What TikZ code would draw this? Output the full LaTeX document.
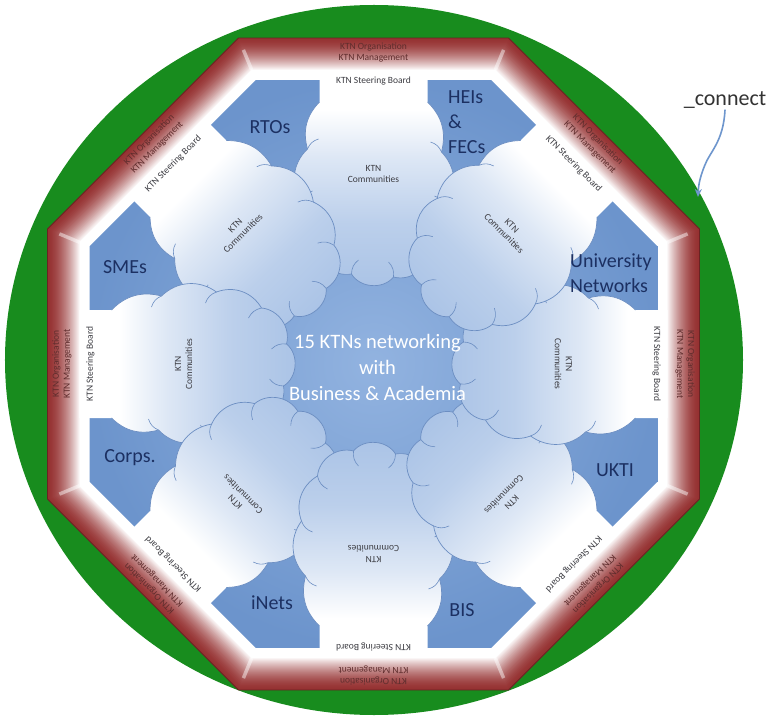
\documentclass[tikz,border=0pt]{standalone}
\usepackage{fontspec}
\setmainfont{Carlito}
\usetikzlibrary{arrows.meta}
\definecolor{ringgreen}{RGB}{24,140,30}
\definecolor{bandred}{RGB}{150,50,50}
\definecolor{bandtext}{RGB}{95,45,45}
\definecolor{octblueA}{RGB}{146,179,224}
\definecolor{octblueB}{RGB}{108,148,204}
\definecolor{cloudblue}{RGB}{170,195,230}
\definecolor{cloudline}{RGB}{108,142,194}
\definecolor{labelblue}{RGB}{28,48,98}
\definecolor{arrowblue}{RGB}{110,150,205}
\definecolor{smalltext}{RGB}{60,60,66}
\pgfdeclareverticalshading{petalshade}{100bp}{color(0bp)=(cloudblue); color(25bp)=(cloudblue); color(40bp)=(cloudblue!80!white); color(55bp)=(cloudblue!40!white); color(66bp)=(white); color(100bp)=(white)}
% regular octagon with flat sides, given its circumradius
\newcommand\octpath[1]{(22.5:#1) -- (67.5:#1) -- (112.5:#1) -- (157.5:#1) -- (202.5:#1) -- (247.5:#1) -- (292.5:#1) -- (337.5:#1) -- cycle}
% one cloud petal, pointing up, outer end on the steering-board strip
\newcommand\petalfill{(-54,294) -- (-54,262) to[bend right=30] (-66,215) to[bend right=40] (-72,162) to[bend right=40] (-58,120) to[bend right=50] (-22,90) to[bend right=55] (20,87) to[bend right=50] (56,112) to[bend right=40] (72,157) to[bend right=40] (68,212) to[bend right=30] (54,262) -- (54,294) -- cycle}
\newcommand\petaledge{(-54,262) to[bend right=30] (-66,215) to[bend right=40] (-72,162) to[bend right=40] (-58,120) to[bend right=50] (-22,90) to[bend right=55] (20,87) to[bend right=50] (56,112) to[bend right=40] (72,157) to[bend right=40] (68,212) to[bend right=30] (54,262)}
% short inner arcs where the cloud bumps meet
\newcommand\petalhooks{(-66,215) to[bend left=25] (-55,225) (-72,162) to[bend left=25] (-61,173) (-58,120) to[bend left=25] (-48,132) (-22,90) to[bend left=25] (-15,104) (20,87) to[bend right=25] (15,102) (56,112) to[bend right=25] (46,125) (72,157) to[bend right=25] (61,168) (68,212) to[bend right=25] (57,222)}
\tikzset{
  smallfont/.style={font=\fontsize{9.5}{11}\selectfont},
  biglabel/.style={font=\fontsize{20}{25}\selectfont, text=labelblue, inner sep=0pt},
}
\begin{document}
\begin{tikzpicture}[x=1pt,y=1pt]
\useasboundingbox (-373.5,-356) rectangle (399.5,364);
\fill[white] (-373.5,-356) rectangle (399.5,364);

% green ring
\fill[ringgreen] (0.5,4) ellipse [x radius=369, y radius=355];

% maroon frame, fading to white towards the inside
\foreach \i in {0,...,32} {
  \pgfmathsetmacro\R{(326-\i)*1.082392}
  \pgfmathsetmacro\p{100*(1-(\i/32)^1.6)}
  \fill[bandred!\p!white] \octpath{\R};
}
\draw[bandred!70!black, line width=0.8] \octpath{352.86};
% light mitre joints
\foreach \a in {22.5,67.5,...,337.5}
  \draw[white, opacity=0.45, line width=3.5] (\a:318.2) -- (\a:340);

% blue octagon
\shade[inner color=octblueA, outer color=octblueB] \octpath{307.4};

% petals with their texts
\foreach \t in {0,45,...,315} {
  \begin{scope}[transform canvas={rotate=\t}]
    \shade[shading=petalshade] \petalfill;
    \draw[cloudline, line width=0.7] \petaledge;
    \draw[cloudline, line width=0.6] \petalhooks;
    \node[smallfont, text=smalltext] (sb\t) at (0,283) {KTN Steering Board};
    \node[smallfont, text=bandtext, align=center] (org\t) at (0,311.5) {KTN Organisation\\KTN Management};
    \node[smallfont, text=smalltext, align=center] (com\t) at (0,190) {KTN\\Communities};
  \end{scope}
}

% centre text
\node[font=\fontsize{20.5}{26}\selectfont, text=white, align=center] (core) at (4,-3) {15 KTNs networking\\with\\Business \& Academia};

% partner labels
\node[biglabel] (rtos) at (-103.5,237) {RTOs};
\node[biglabel, anchor=west, align=left] (heis) at (74.5,242) {HEIs\\\&\\FECs};
\node[biglabel, anchor=west, align=left] (unis) at (196.5,91) {University\\Networks};
\node[biglabel] (smes) at (-248.5,97) {SMEs};
\node[biglabel] (corps) at (-243.5,-94) {Corps.};
\node[biglabel] (ukti) at (241.5,-106) {UKTI};
\node[biglabel] (inets) at (-101.5,-239) {iNets};
\node[biglabel] (bis) at (88.5,-246) {BIS};

% brand label and its pointer
\node[font=\fontsize{22}{26}\selectfont, text=black!80, inner sep=1pt] (connect) at (351.5,264) {\_connect};
\coordinate (ringmark) at (324.5,167);
\draw[arrowblue, line width=1.6, -{Stealth[length=8pt,width=7pt]}]
  (connect.south) .. controls (350,222) and (336,212) .. (331,198)
  .. controls (327,188) and (325,180) .. (ringmark);
\end{tikzpicture}
\end{document}
